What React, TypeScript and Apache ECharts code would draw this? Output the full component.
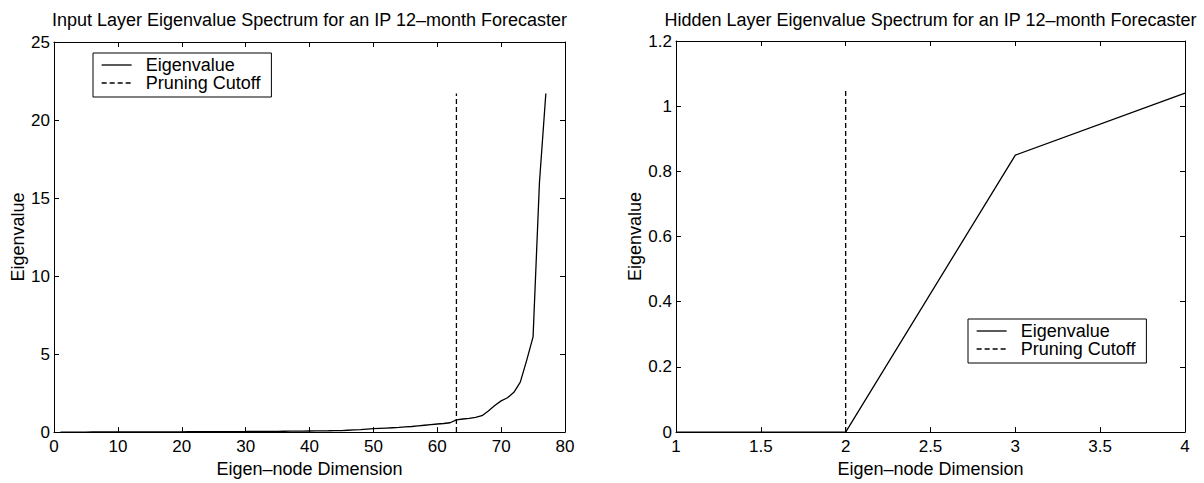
import React, { useEffect, useRef } from "react";
import * as echarts from "echarts";

// Input layer eigenvalues for eigen-node dimensions 1..77
const inputEigen = [
  0.001, 0.002, 0.002, 0.003, 0.004, 0.005, 0.005, 0.006, 0.007, 0.008,
  0.009, 0.01, 0.011, 0.012, 0.013, 0.014, 0.016, 0.017, 0.018, 0.02,
  0.021, 0.023, 0.024, 0.026, 0.028, 0.03, 0.031, 0.033, 0.035, 0.037,
  0.04, 0.042, 0.045, 0.048, 0.051, 0.054, 0.058, 0.062, 0.066, 0.071,
  0.076, 0.082, 0.088, 0.095, 0.1, 0.12, 0.14, 0.16, 0.19, 0.22,
  0.24, 0.26, 0.28, 0.3, 0.33, 0.36, 0.4, 0.44, 0.48, 0.52,
  0.55, 0.6, 0.78, 0.84, 0.88, 0.95, 1.05, 1.35, 1.7, 2.0,
  2.2, 2.55, 3.2, 4.6, 6.1, 16.0, 21.7,
];
const inputDims = inputEigen.map((_, i) => i + 1);
const inputCutoffX = 63;
const inputCutoffTop = 21.7;

const hiddenDims = [1, 2, 3, 4];
const hiddenEigen = [0, 0, 0.85, 1.04];
const hiddenCutoffX = 2;
const hiddenCutoffTop = 1.05;

const seriesNames = ["Eigenvalue", "Pruning Cutoff"];
const titles = [
  "Input Layer Eigenvalue Spectrum for an IP 12\u2013month Forecaster",
  "Hidden Layer Eigenvalue Spectrum for an IP 12\u2013month Forecaster",
];
const xName = "Eigen\u2013node Dimension";
const yName = "Eigenvalue";

const FONT = "'Liberation Sans', Arial, Helvetica, sans-serif";
const BLACK = "#000";
const CLEAR = "rgba(0,0,0,0)";

function axisCommon(min: number, max: number, interval: number) {
  return {
    type: "value" as const,
    min,
    max,
    interval,
    splitLine: { show: false },
    axisLine: { show: true, onZero: false, lineStyle: { color: BLACK, width: 1 } },
    axisTick: { show: true, inside: true, length: 5, lineStyle: { color: BLACK, width: 1 } },
  };
}

function xAxes(gridIndex: number, min: number, max: number, interval: number) {
  return [
    {
      ...axisCommon(min, max, interval),
      gridIndex,
      position: "bottom",
      axisLabel: { show: true, color: BLACK, fontSize: 17, fontFamily: FONT, margin: 6 },
      name: xName,
      nameLocation: "middle",
      nameGap: 26,
      nameTextStyle: { color: BLACK, fontSize: 18, fontFamily: FONT },
    },
    {
      ...axisCommon(min, max, interval),
      gridIndex,
      position: "top",
      axisLabel: { show: false },
    },
  ];
}

function yAxes(gridIndex: number, min: number, max: number, interval: number, nameGap: number) {
  return [
    {
      ...axisCommon(min, max, interval),
      gridIndex,
      position: "left",
      axisLabel: { show: true, color: BLACK, fontSize: 17, fontFamily: FONT, margin: 4 },
      name: yName,
      nameLocation: "middle",
      nameGap,
      nameTextStyle: { color: BLACK, fontSize: 18, fontFamily: FONT },
    },
    {
      ...axisCommon(min, max, interval),
      gridIndex,
      position: "right",
      axisLabel: { show: false },
    },
  ];
}

function legendAt(left: number, top: number) {
  return {
    data: seriesNames,
    left,
    top,
    orient: "vertical",
    itemWidth: 30,
    itemHeight: 14,
    itemGap: 0,
    padding: [3, 11, 5, 8],
    borderColor: BLACK,
    borderWidth: 1,
    borderRadius: 0,
    backgroundColor: "#fff",
    selectedMode: false,
    itemStyle: { color: CLEAR, borderColor: CLEAR, borderWidth: 0, opacity: 0 },
    lineStyle: { color: BLACK, width: 1.3 },
    textStyle: { color: BLACK, fontSize: 18, fontFamily: FONT, lineHeight: 18, padding: [0, 0, 0, 9] },
  };
}

const solid = { color: BLACK, width: 1.3, type: "solid" };
const dashed = { color: BLACK, width: 1.3, type: [5, 3] };

export default function App() {
  const ref = useRef<HTMLDivElement>(null);
  useEffect(() => {
    if (!ref.current) return;
    const chart = echarts.init(ref.current, null, { renderer: "svg" });
    const option: any = {
      animation: false,
      backgroundColor: "#fff",
      textStyle: { fontFamily: FONT },
      title: [
        {
          text: titles[0],
          left: 309.5,
          top: 11,
          textAlign: "center",
          padding: 0,
          textStyle: { color: BLACK, fontSize: 18, fontWeight: "normal", fontFamily: FONT },
        },
        {
          text: titles[1],
          left: 930.5,
          top: 11,
          textAlign: "center",
          padding: 0,
          textStyle: { color: BLACK, fontSize: 18, fontWeight: "normal", fontFamily: FONT },
        },
      ],
      grid: [
        { left: 54, top: 42, width: 511, height: 402 },
        { left: 676, top: 41, width: 509, height: 401 },
      ],
      xAxis: [...xAxes(0, 0, 80, 10), ...xAxes(1, 1, 4, 0.5)],
      yAxis: [...yAxes(0, 0, 25, 5, 25), ...yAxes(1, 0, 1.2, 0.2, 32)],
      legend: [legendAt(93, 53), legendAt(968, 319)],
      series: [
        {
          name: seriesNames[0],
          type: "line",
          xAxisIndex: 0,
          yAxisIndex: 0,
          symbol: "none",
          color: BLACK,
          lineStyle: solid,
          data: inputDims.map((d, i) => [d, inputEigen[i]]),
        },
        {
          name: seriesNames[1],
          type: "line",
          xAxisIndex: 0,
          yAxisIndex: 0,
          symbol: "none",
          color: BLACK,
          lineStyle: dashed,
          data: [
            [inputCutoffX, 0],
            [inputCutoffX, inputCutoffTop],
          ],
        },
        {
          name: seriesNames[0],
          type: "line",
          xAxisIndex: 2,
          yAxisIndex: 2,
          symbol: "none",
          color: BLACK,
          lineStyle: solid,
          data: hiddenDims.map((d, i) => [d, hiddenEigen[i]]),
        },
        {
          name: seriesNames[1],
          type: "line",
          xAxisIndex: 2,
          yAxisIndex: 2,
          symbol: "none",
          color: BLACK,
          lineStyle: dashed,
          data: [
            [hiddenCutoffX, 0],
            [hiddenCutoffX, hiddenCutoffTop],
          ],
        },
      ],
    };
    chart.setOption(option);
    return () => chart.dispose();
  }, []);
  return (
    <div
      ref={ref}
      style={{ position: "absolute", left: 0, top: 0, width: 1204, height: 483, background: "#fff" }}
    />
  );
}
